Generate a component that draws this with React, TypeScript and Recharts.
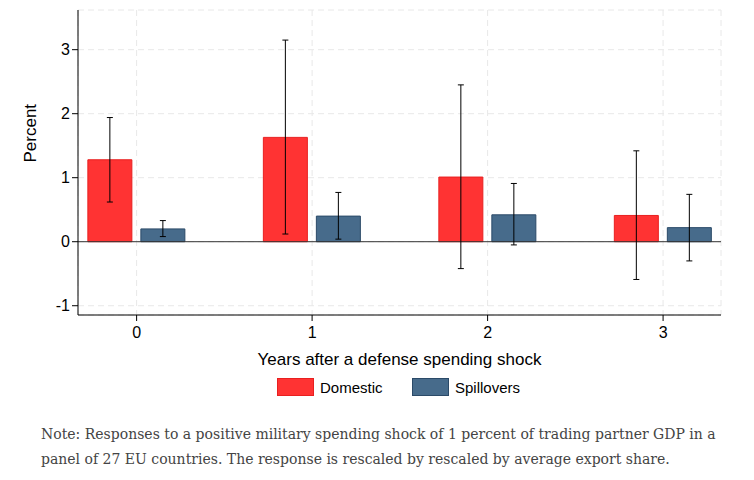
import React from "react";
import {
  ComposedChart,
  Bar,
  XAxis,
  YAxis,
  CartesianGrid,
  ReferenceLine,
  ErrorBar,
} from "recharts";

const years = [0, 1, 2, 3];
const domestic = [1.28, 1.63, 1.01, 0.41];
const domesticLow = [0.62, 0.12, -0.42, -0.59];
const domesticHigh = [1.94, 3.15, 2.45, 1.42];
const spillovers = [0.2, 0.4, 0.42, 0.22];
const spillLow = [0.08, 0.04, -0.05, -0.3];
const spillHigh = [0.33, 0.77, 0.91, 0.74];
const yTicks = [-1, 0, 1, 2, 3];

const data = years.map((y, i) => ({
  year: y,
  domestic: domestic[i],
  domesticErr: [domestic[i] - domesticLow[i], domesticHigh[i] - domestic[i]],
  spillovers: spillovers[i],
  spillErr: [spillovers[i] - spillLow[i], spillHigh[i] - spillovers[i]],
}));

const font = "'Liberation Sans', Arial, sans-serif";

export default function App() {
  return (
    <div style={{ width: 730, fontFamily: font }}>
      <ComposedChart
        width={730}
        height={360}
        data={data}
        margin={{ top: 2, right: 17, bottom: 0, left: 30 }}
        barSize={44}
        barGap={9}
      >
        <CartesianGrid stroke="#e8e8e8" strokeDasharray="6 4" />
        <XAxis
          type="number"
          dataKey="year"
          domain={[-0.334, 3.33]}
          ticks={years}
          height={53}
          tick={{ fill: "#000", fontSize: 16, fontFamily: font }}
          tickMargin={6}
          axisLine={{ stroke: "#000" }}
          tickLine={{ stroke: "#000" }}
          allowDataOverflow
          label={{
            value: "Years after a defense spending shock",
            position: "insideBottom",
            offset: 3,
            fill: "#000",
            fontSize: 17,
            fontFamily: font,
          }}
        />
        <YAxis
          width={40}
          domain={[-1.145, 3.62]}
          ticks={yTicks}
          allowDataOverflow
          tick={{ fill: "#000", fontSize: 16, fontFamily: font }}
          axisLine={{ stroke: "#000" }}
          tickLine={{ stroke: "#000" }}
          label={{
            value: "Percent",
            angle: -90,
            position: "insideLeft",
            offset: -8,
            fill: "#000",
            fontSize: 17,
            fontFamily: font,
          }}
        />
        <ReferenceLine y={0} stroke="#333" />
        <Bar dataKey="domestic" fill="#ff3333" stroke="#e82020" isAnimationActive={false}>
          <ErrorBar dataKey="domesticErr" width={3} stroke="#000" strokeWidth={1} />
        </Bar>
        <Bar dataKey="spillovers" fill="#476b8b" stroke="#2b4a68" isAnimationActive={false}>
          <ErrorBar dataKey="spillErr" width={3} stroke="#000" strokeWidth={1} />
        </Bar>
      </ComposedChart>
      <div style={{ display: "flex", gap: 0, marginLeft: 269, marginTop: 10, fontSize: 15, alignItems: "center" }}>
        <span style={{ width: 35, height: 16, background: "#ff3333", border: "1px solid #e82020", display: "inline-block" }} />
        <span style={{ marginLeft: 6, width: 92 }}>Domestic</span>
        <span style={{ width: 35, height: 16, background: "#476b8b", border: "1px solid #2b4a68", display: "inline-block" }} />
        <span style={{ marginLeft: 6 }}>Spillovers</span>
      </div>
      <div
        style={{
          marginLeft: 33,
          marginTop: 26,
          fontFamily: "'DejaVu Serif', serif",
          fontSize: 14,
          lineHeight: "25px",
          color: "#444",
          width: 680,
        }}
      >
        Note: Responses to a positive military spending shock of 1 percent of trading partner GDP in a panel of 27 EU countries. The response is rescaled by rescaled by average export share.
      </div>
    </div>
  );
}
